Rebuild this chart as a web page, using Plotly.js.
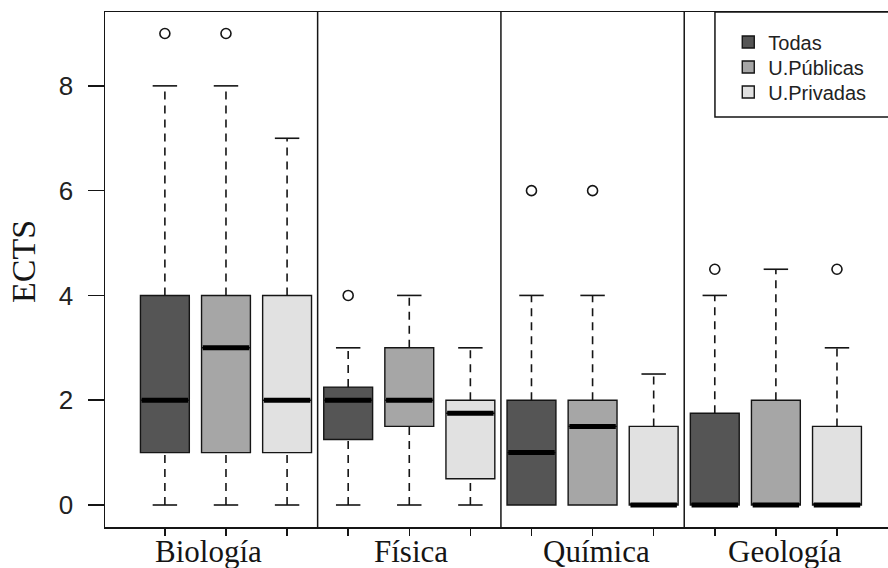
<!DOCTYPE html>
<html><head><meta charset="utf-8">
<script src="https://cdn.plot.ly/plotly-3.0.1.min.js"></script>
<style>html,body{margin:0;padding:0;background:#fff}#chart{width:888px;height:568px}</style>
</head><body><div id="chart"></div>
<script>
// ---- data ----
const categories = ['Biología', 'Física', 'Química', 'Geología'];
const seriesNames = ['Todas', 'U.Públicas', 'U.Privadas'];
const yTicks = [0, 2, 4, 6, 8];

const todasMin = [0, 0, 0, 0];
const todasQ1 = [1, 1.25, 0, 0];
const todasMed = [2, 2, 1, 0];
const todasQ3 = [4, 2.25, 2, 1.75];
const todasMax = [8, 3, 4, 4];
const todasOut = [[9], [4], [6], [4.5]];

const publicasMin = [0, 0, 0, 0];
const publicasQ1 = [1, 1.5, 0, 0];
const publicasMed = [3, 2, 1.5, 0];
const publicasQ3 = [4, 3, 2, 2];
const publicasMax = [8, 4, 4, 4.5];
const publicasOut = [[9], [], [6], []];

const privadasMin = [0, 0, 0, 0];
const privadasQ1 = [1, 0.5, 0, 0];
const privadasMed = [2, 1.75, 0, 0];
const privadasQ3 = [4, 2, 1.5, 1.5];
const privadasMax = [7, 3, 2.5, 3];
const privadasOut = [[], [], [], [4.5]];

// ---- styles ----
const fills = ['#555555', '#a6a6a6', '#e1e1e1'];
const ink = '#151515';
const boxHalf = 0.4, capHalf = 0.2;
const labelCenters = [1.72, 5.03, 8.07, 11.15];
const legendNames = ['legend', 'legend2', 'legend3'];
const legendY = [0.9417, 0.8932, 0.8447];

const series = [
  {min: todasMin, q1: todasQ1, med: todasMed, q3: todasQ3, max: todasMax, out: todasOut},
  {min: publicasMin, q1: publicasQ1, med: publicasMed, q3: publicasQ3, max: publicasMax, out: publicasOut},
  {min: privadasMin, q1: privadasQ1, med: privadasMed, q3: privadasQ3, max: privadasMax, out: privadasOut}
];
const pos = (c, s) => c * seriesNames.length + s + 1;

const traces = [];
series.forEach((d, s) => {
  const xs = categories.map((_, c) => pos(c, s));
  traces.push({
    type: 'box', name: seriesNames[s], x: xs, legend: legendNames[s],
    q1: d.q1, median: d.med, q3: d.q3, lowerfence: d.q1, upperfence: d.q3,
    width: 0.8, whiskerwidth: 0, boxpoints: false,
    fillcolor: fills[s], line: {color: ink, width: 1.4}, hoverinfo: 'skip'
  });
});

// whiskers, caps, medians, outliers
const wx = [], wy = [], cx = [], cy = [], mx = [], my = [], ox = [], oy = [];
series.forEach((d, s) => {
  categories.forEach((_, c) => {
    const x = pos(c, s);
    if (d.min[c] < d.q1[c]) {
      wx.push(x, x, null); wy.push(d.min[c], d.q1[c], null);
      cx.push(x - capHalf, x + capHalf, null); cy.push(d.min[c], d.min[c], null);
    }
    if (d.max[c] > d.q3[c]) {
      wx.push(x, x, null); wy.push(d.q3[c], d.max[c], null);
      cx.push(x - capHalf, x + capHalf, null); cy.push(d.max[c], d.max[c], null);
    }
    mx.push(x - boxHalf + 0.02, x + boxHalf - 0.02, null); my.push(d.med[c], d.med[c], null);
    d.out[c].forEach(v => { ox.push(x); oy.push(v); });
  });
});
traces.push({type: 'scatter', mode: 'lines', x: wx, y: wy, showlegend: false, hoverinfo: 'skip',
  line: {color: ink, width: 1.6, dash: '8px,6px'}});
traces.push({type: 'scatter', mode: 'lines', x: cx, y: cy, showlegend: false, hoverinfo: 'skip',
  line: {color: ink, width: 1.6}});
traces.push({type: 'scatter', mode: 'lines', x: mx, y: my, showlegend: false, hoverinfo: 'skip',
  line: {color: '#000', width: 5}});
traces.push({type: 'scatter', mode: 'markers', x: ox, y: oy, showlegend: false, hoverinfo: 'skip',
  marker: {symbol: 'circle-open', size: 10, color: ink, line: {width: 1.6, color: ink}}});

const seps = [];
for (let c = 1; c < categories.length; c++) {
  const xv = pos(c, 0) - 0.5;
  seps.push({type: 'line', xref: 'x', yref: 'paper', x0: xv, x1: xv, y0: 0, y1: 1,
    line: {color: ink, width: 1.5}});
}
seps.push({type: 'rect', xref: 'paper', yref: 'paper', x0: 0.779, x1: 1.2, y0: 0.796, y1: 1.0,
  line: {color: ink, width: 1.5}, fillcolor: 'rgba(0,0,0,0)'});

const annotations = categories.map((t, c) => ({
  text: t, xref: 'x', yref: 'paper', x: labelCenters[c], y: -0.010,
  xanchor: 'center', yanchor: 'top', showarrow: false,
  font: {family: 'Liberation Serif, Times New Roman, serif', size: 31, color: ink}
}));
annotations.push({text: 'ECTS', xref: 'paper', yref: 'paper', x: -0.1034, y: 0.5146,
  xanchor: 'center', yanchor: 'middle', textangle: -90, showarrow: false,
  font: {family: 'Liberation Serif, Times New Roman, serif', size: 34, color: ink}});

const legendBase = {x: 0.796, xanchor: 'left', yanchor: 'middle',
  bgcolor: 'rgba(0,0,0,0)', borderwidth: 0, tracegroupgap: 0,
  font: {family: 'Liberation Sans, Arial, sans-serif', size: 20, color: '#222'}};

const layout = {
  width: 888, height: 568,
  margin: {l: 105, r: 0, t: 12, b: 41},
  paper_bgcolor: '#fff', plot_bgcolor: '#fff',
  showlegend: true,
  boxmode: 'overlay',
  xaxis: {range: [0.02, 12.835], tickvals: categories.flatMap((_, c) => seriesNames.map((_, s) => pos(c, s))),
    ticktext: categories.flatMap(() => seriesNames.map(() => '')),
    ticks: 'outside', ticklen: 7, tickwidth: 1.5, tickcolor: ink,
    showline: true, mirror: true, linecolor: ink, linewidth: 1.5,
    showgrid: false, zeroline: false, fixedrange: true},
  yaxis: {range: [-0.42, 9.41], tickvals: yTicks, ticktext: yTicks.map(String),
    ticks: 'outside', ticklen: 16, tickwidth: 1.5, tickcolor: ink, ticklabelstandoff: 9,
    showline: true, mirror: false, linecolor: ink, linewidth: 1.5,
    showgrid: false, zeroline: false, fixedrange: true,
    tickfont: {family: 'Liberation Sans, Arial, sans-serif', size: 26, color: '#222'}},
  legend: Object.assign({}, legendBase, {y: legendY[0]}),
  legend2: Object.assign({}, legendBase, {y: legendY[1]}),
  legend3: Object.assign({}, legendBase, {y: legendY[2]}),
  shapes: seps,
  annotations: annotations
};

Plotly.newPlot('chart', traces, layout, {displayModeBar: false, staticPlot: true});
</script>
</body></html>
